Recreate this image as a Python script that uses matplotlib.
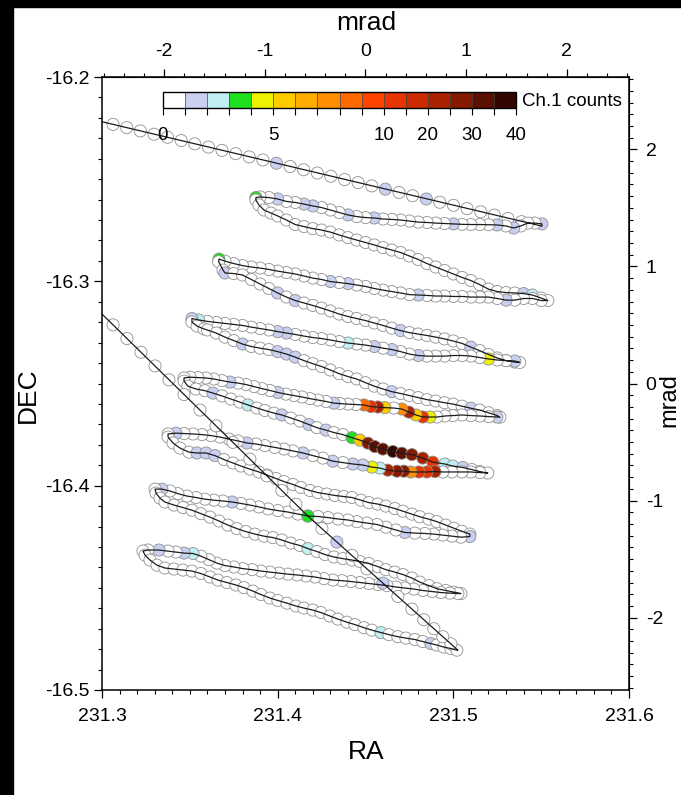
import numpy as np
import matplotlib
matplotlib.use('Agg')
import matplotlib.pyplot as plt
from matplotlib.colors import ListedColormap, BoundaryNorm
from matplotlib.cm import ScalarMappable
from matplotlib.ticker import MultipleLocator, FixedLocator, NullFormatter
from matplotlib import font_manager
from matplotlib.patches import Rectangle

names = {f.name for f in font_manager.fontManager.ttflist}
FONT = 'Liberation Sans Narrow' if 'Liberation Sans Narrow' in names else 'Liberation Sans'
plt.rcParams['font.family'] = [FONT, 'DejaVu Sans']
plt.rcParams['axes.unicode_minus'] = False

# ---------------- data (RA, DEC, Ch.1 counts) ----------------
top_line_ra = [231.3000, 231.5505]
top_line_dec = [-16.2219, -16.2730]
top_obs = [
    (231.3063, -16.2232, 0), (231.3141, -16.2248, 0), (231.3218, -16.2264, 0), (231.3296, -16.2280, 0),
    (231.3373, -16.2295, 0), (231.3451, -16.2311, 0), (231.3528, -16.2327, 0), (231.3606, -16.2343, 0),
    (231.3683, -16.2359, 0), (231.3761, -16.2375, 0), (231.3838, -16.2391, 0), (231.3916, -16.2406, 0),
    (231.3993, -16.2422, 1.5), (231.4071, -16.2438, 0), (231.4148, -16.2454, 0), (231.4226, -16.2470, 0),
    (231.4303, -16.2486, 0), (231.4381, -16.2502, 0), (231.4458, -16.2517, 0), (231.4536, -16.2533, 0),
    (231.4613, -16.2549, 1.5), (231.4691, -16.2565, 0), (231.4768, -16.2581, 0), (231.4846, -16.2597, 1.5),
    (231.4923, -16.2613, 0), (231.5001, -16.2628, 0), (231.5078, -16.2644, 0), (231.5156, -16.2660, 0),
    (231.5233, -16.2676, 0), (231.5311, -16.2692, 0), (231.5388, -16.2708, 0),
]
seg01 = [
    (231.5504, -16.2719, 1.5), (231.5464, -16.2715, 0), (231.5424, -16.2715, 0), (231.5384, -16.2729, 0),
    (231.5344, -16.2739, 1.5), (231.5299, -16.2729, 0), (231.5248, -16.2724, 1.5), (231.520, -16.2723, 0),
    (231.515, -16.2722, 0), (231.510, -16.2722, 0), (231.505, -16.2721, 0), (231.500, -16.2719, 1.5),
    (231.495, -16.2717, 0), (231.490, -16.2715, 0), (231.485, -16.2712, 0), (231.480, -16.2710, 0),
    (231.475, -16.2705, 0), (231.470, -16.2700, 0), (231.465, -16.2697, 0), (231.460, -16.2695, 0),
    (231.455, -16.2690, 1.5), (231.450, -16.2688, 0), (231.445, -16.2683, 0), (231.440, -16.2675, 1.5),
    (231.435, -16.2663, 0), (231.430, -16.2651, 0), (231.425, -16.2639, 0), (231.420, -16.2631, 1.5),
    (231.415, -16.2622, 1.5), (231.410, -16.2614, 0), (231.405, -16.2609, 0), (231.400, -16.2597, 1.5),
    (231.395, -16.2590, 0), (231.390, -16.2587, 0), (231.3876, -16.2590, 3.5),
]
seg02 = [
    (231.3876, -16.2602, 0), (231.3893, -16.2626, 0), (231.3922, -16.2651, 0), (231.3962, -16.2666, 0),
    (231.400, -16.2680, 0), (231.405, -16.2700, 0), (231.410, -16.2722, 0), (231.415, -16.2732, 0),
    (231.420, -16.2742, 0), (231.425, -16.2749, 0), (231.430, -16.2759, 0), (231.435, -16.2773, 0),
    (231.440, -16.2786, 0), (231.445, -16.2798, 0), (231.450, -16.2810, 0), (231.455, -16.2822, 0),
    (231.460, -16.2835, 0), (231.465, -16.2847, 0), (231.470, -16.2859, 0), (231.475, -16.2876, 0),
    (231.480, -16.2893, 0), (231.485, -16.2913, 0), (231.490, -16.2930, 0), (231.495, -16.2947, 0),
    (231.500, -16.2964, 0), (231.505, -16.2981, 0), (231.510, -16.2996, 0), (231.515, -16.3016, 0),
    (231.520, -16.3038, 0), (231.525, -16.3050, 0), (231.530, -16.3055, 0), (231.535, -16.3057, 0),
    (231.540, -16.3060, 1.5), (231.545, -16.3067, 2.5), (231.550, -16.3082, 0), (231.5538, -16.3094, 0),
]
seg03 = [
    (231.550, -16.3094, 0), (231.545, -16.3084, 0), (231.540, -16.3084, 0), (231.535, -16.3092, 0),
    (231.530, -16.3092, 1.5), (231.525, -16.3084, 0), (231.520, -16.3077, 0), (231.515, -16.3077, 0),
    (231.510, -16.3077, 0), (231.505, -16.3074, 0), (231.500, -16.3074, 0), (231.495, -16.3072, 0),
    (231.490, -16.3072, 0), (231.485, -16.3069, 0), (231.480, -16.3067, 1.5), (231.475, -16.3065, 0),
    (231.470, -16.3057, 0), (231.465, -16.3050, 0), (231.460, -16.3043, 0), (231.455, -16.3035, 0),
    (231.450, -16.3025, 0), (231.445, -16.3018, 0), (231.440, -16.3011, 1.5), (231.435, -16.3006, 0),
    (231.430, -16.3001, 1.5), (231.425, -16.2991, 0), (231.420, -16.2984, 0), (231.415, -16.2974, 0),
    (231.410, -16.2964, 0), (231.405, -16.2957, 0), (231.400, -16.2950, 0), (231.395, -16.2942, 0),
    (231.390, -16.2935, 0), (231.385, -16.2930, 0), (231.380, -16.2923, 0), (231.375, -16.2913, 0),
    (231.370, -16.2901, 0), (231.3666, -16.2891, 3.5),
]
seg04 = [
    (231.3664, -16.2904, 0), (231.3689, -16.2945, 0), (231.370, -16.2959, 1.5), (231.375, -16.2962, 0),
    (231.380, -16.2969, 0), (231.385, -16.2991, 0), (231.390, -16.3013, 0), (231.395, -16.3035, 0),
    (231.400, -16.3057, 1.5), (231.405, -16.3077, 0), (231.410, -16.3094, 1.5), (231.415, -16.3106, 0),
    (231.420, -16.3118, 0), (231.425, -16.3131, 0), (231.430, -16.3145, 0), (231.435, -16.3160, 0),
    (231.440, -16.3172, 0), (231.445, -16.3182, 0), (231.450, -16.3192, 0), (231.455, -16.3204, 0),
    (231.460, -16.3216, 0), (231.465, -16.3229, 0), (231.470, -16.3241, 1.5), (231.475, -16.3251, 0),
    (231.480, -16.3258, 0), (231.485, -16.3265, 0), (231.490, -16.3273, 0), (231.495, -16.3282, 0),
    (231.500, -16.3292, 0), (231.505, -16.3304, 0), (231.510, -16.3322, 1.5), (231.515, -16.3339, 0),
    (231.520, -16.3358, 0), (231.525, -16.3375, 0), (231.530, -16.3388, 0), (231.535, -16.3395, 0),
    (231.5378, -16.3397, 0),
]
seg05 = [
    (231.535, -16.3390, 1.5), (231.530, -16.3388, 0), (231.525, -16.3385, 0), (231.520, -16.3380, 4.5),
    (231.515, -16.3373, 0), (231.510, -16.3366, 0), (231.505, -16.3363, 0), (231.500, -16.3363, 0),
    (231.495, -16.3366, 0), (231.490, -16.3366, 0), (231.485, -16.3366, 0), (231.480, -16.3363, 1.5),
    (231.475, -16.3356, 0), (231.470, -16.3344, 0), (231.465, -16.3334, 1.5), (231.460, -16.3327, 0),
    (231.455, -16.3319, 1.5), (231.450, -16.3312, 0), (231.445, -16.3307, 0), (231.440, -16.3302, 2.5),
    (231.435, -16.3295, 0), (231.430, -16.3287, 0), (231.425, -16.3280, 0), (231.420, -16.3275, 0),
    (231.415, -16.3268, 0), (231.410, -16.3260, 0), (231.405, -16.3253, 1.5), (231.400, -16.3246, 1.5),
    (231.395, -16.3238, 0), (231.390, -16.3231, 0), (231.385, -16.3224, 0), (231.380, -16.3216, 0),
    (231.375, -16.3211, 0), (231.370, -16.3206, 0), (231.365, -16.3201, 0), (231.360, -16.3196, 0),
    (231.355, -16.3189, 2.5), (231.3512, -16.3182, 1.5),
]
seg06 = [
    (231.3512, -16.3199, 0), (231.3541, -16.3219, 0), (231.3580, -16.3233, 0), (231.360, -16.3238, 0),
    (231.365, -16.3253, 0), (231.370, -16.3273, 0), (231.375, -16.3290, 0), (231.380, -16.3307, 1.5),
    (231.385, -16.3319, 0), (231.390, -16.3327, 0), (231.395, -16.3334, 0), (231.400, -16.3344, 1.5),
    (231.405, -16.3356, 1.5), (231.410, -16.3371, 1.5), (231.415, -16.3388, 0), (231.420, -16.3403, 0),
    (231.425, -16.3417, 0), (231.430, -16.3434, 0), (231.435, -16.3452, 0), (231.440, -16.3466, 0),
    (231.445, -16.3478, 0), (231.450, -16.3496, 0), (231.455, -16.3513, 0), (231.460, -16.3527, 0),
    (231.465, -16.3540, 1.5), (231.470, -16.3549, 0), (231.475, -16.3559, 0), (231.480, -16.3569, 0),
    (231.485, -16.3579, 0), (231.490, -16.3586, 0), (231.495, -16.3594, 0), (231.500, -16.3601, 0),
    (231.505, -16.3611, 0), (231.510, -16.3621, 1.5), (231.515, -16.3630, 0), (231.520, -16.3643, 0),
    (231.525, -16.3657, 0), (231.5265, -16.3665, 0),
]
seg07 = [
    (231.5248, -16.3664, 1.5), (231.5202, -16.3662, 0), (231.5151, -16.3659, 0), (231.5100, -16.3657, 0),
    (231.5048, -16.3654, 0), (231.4997, -16.3657, 0), (231.4952, -16.3659, 0), (231.4906, -16.3664, 0),
    (231.4866, -16.3664, 4.5), (231.4826, -16.3664, 12), (231.4787, -16.3654, 5.5), (231.4747, -16.3640, 22),
    (231.4707, -16.3625, 7.5), (231.4661, -16.3620, 0), (231.4610, -16.3618, 5.5), (231.4570, -16.3615, 22),
    (231.4531, -16.3613, 12), (231.4491, -16.3605, 8.5), (231.4445, -16.3603, 0), (231.4400, -16.3601, 0),
    (231.4354, -16.3598, 0), (231.4320, -16.3596, 1.5), (231.4275, -16.3588, 0), (231.4229, -16.3581, 0),
    (231.4184, -16.3574, 0), (231.4138, -16.3566, 0), (231.4092, -16.3559, 0), (231.4047, -16.3552, 0),
    (231.4001, -16.3544, 1.5), (231.3956, -16.3534, 0), (231.3910, -16.3525, 0), (231.3865, -16.3515, 0),
    (231.3819, -16.3505, 0), (231.3774, -16.3498, 0), (231.3728, -16.3493, 1.5), (231.3683, -16.3486, 0),
    (231.3637, -16.3478, 0), (231.3592, -16.3473, 0), (231.3546, -16.3471, 0), (231.3501, -16.3469, 0),
    (231.3467, -16.3473, 0),
]
seg08 = [
    (231.3467, -16.3488, 0), (231.3489, -16.3513, 0), (231.3535, -16.3527, 0), (231.3586, -16.3535, 0),
    (231.3632, -16.3547, 1.5), (231.3683, -16.3561, 0), (231.3734, -16.3576, 0), (231.3785, -16.3591, 0),
    (231.3831, -16.3605, 2.5), (231.3882, -16.3620, 0), (231.3927, -16.3632, 0), (231.3979, -16.3645, 0),
    (231.4024, -16.3654, 1.5), (231.4075, -16.3669, 0), (231.4127, -16.3684, 0), (231.4178, -16.3701, 1.5),
    (231.4223, -16.3716, 0), (231.4275, -16.3728, 1.5), (231.4320, -16.3740, 0), (231.4371, -16.3750, 0),
    (231.4423, -16.3765, 3.5), (231.4468, -16.3777, 5.5), (231.4514, -16.3792, 27), (231.4553, -16.3809, 32),
    (231.4599, -16.3821, 30), (231.4656, -16.3833, 38), (231.4707, -16.3841, 33), (231.4764, -16.3848, 27),
    (231.4826, -16.3865, 22), (231.4883, -16.3885, 12), (231.4952, -16.3894, 2.5), (231.4997, -16.3904, 2.5),
    (231.5054, -16.3911, 1.5), (231.5105, -16.3921, 0), (231.5151, -16.3931, 0), (231.5196, -16.3938, 0),
]
seg09 = [
    (231.5151, -16.3936, 0), (231.5100, -16.3933, 0), (231.5048, -16.3933, 0), (231.4992, -16.3933, 0),
    (231.4940, -16.3933, 0), (231.4895, -16.3931, 22), (231.4849, -16.3933, 12), (231.4804, -16.3933, 12),
    (231.4758, -16.3933, 7.5), (231.4718, -16.3929, 27), (231.4679, -16.3929, 27), (231.4627, -16.3924, 22),
    (231.4582, -16.3914, 2.5), (231.4536, -16.3909, 4.5), (231.4485, -16.3899, 1.5), (231.4428, -16.3894, 1.5),
    (231.4371, -16.3887, 0), (231.4314, -16.3880, 1.5), (231.4257, -16.3865, 0), (231.4201, -16.3853, 0),
    (231.4144, -16.3840, 1.5), (231.4087, -16.3830, 0), (231.4036, -16.3821, 0), (231.3984, -16.3813, 0),
    (231.3927, -16.3804, 0), (231.3876, -16.3796, 0), (231.3825, -16.3791, 1.5), (231.3774, -16.3781, 0),
    (231.3723, -16.3772, 0), (231.3671, -16.3762, 0), (231.3620, -16.3755, 0), (231.3569, -16.3750, 0),
    (231.3518, -16.3747, 0), (231.3467, -16.3745, 0), (231.3421, -16.3743, 1.5), (231.3376, -16.3747, 0),
]
seg10 = [
    (231.3376, -16.3762, 0), (231.3404, -16.3791, 0), (231.3444, -16.3816, 0), (231.3495, -16.3836, 0),
    (231.3541, -16.3840, 1.5), (231.3592, -16.3840, 1.5), (231.3643, -16.3853, 1.5), (231.3694, -16.3872, 0),
    (231.3745, -16.3889, 0), (231.3791, -16.3904, 0), (231.3842, -16.3919, 0), (231.3893, -16.3933, 0),
    (231.3939, -16.3948, 0), (231.3990, -16.3965, 0), (231.4036, -16.3980, 0), (231.4087, -16.3994, 0),
    (231.4132, -16.4009, 0), (231.4184, -16.4024, 0), (231.4229, -16.4034, 0), (231.4280, -16.4041, 0),
    (231.4326, -16.4048, 0), (231.4377, -16.4053, 0), (231.4423, -16.4058, 0), (231.4474, -16.4071, 0),
    (231.4519, -16.4083, 0), (231.4570, -16.4090, 0), (231.4616, -16.4100, 0), (231.4667, -16.4112, 0),
    (231.4713, -16.4125, 0), (231.4764, -16.4139, 0), (231.4809, -16.4152, 0), (231.4861, -16.4164, 0),
    (231.4906, -16.4176, 0), (231.4957, -16.4193, 0), (231.5003, -16.4208, 0), (231.5048, -16.4223, 0),
    (231.5094, -16.4237, 0),
]
seg11 = [
    (231.5094, -16.4249, 1.5), (231.5043, -16.4252, 0), (231.4992, -16.4247, 0), (231.4940, -16.4242, 0),
    (231.4889, -16.4237, 0), (231.4838, -16.4234, 0), (231.4781, -16.4232, 0), (231.4724, -16.4229, 1.5),
    (231.4673, -16.4217, 0), (231.4616, -16.4203, 0), (231.4565, -16.4190, 0), (231.4508, -16.4183, 0),
    (231.4451, -16.4176, 0), (231.4400, -16.4168, 0), (231.4343, -16.4163, 0), (231.4286, -16.4156, 0),
    (231.4229, -16.4151, 0), (231.4172, -16.4148, 0), (231.4115, -16.4139, 0), (231.4058, -16.4129, 0),
    (231.4001, -16.4122, 0), (231.3945, -16.4114, 0), (231.3893, -16.4104, 0), (231.3842, -16.4095, 0),
    (231.3791, -16.4087, 0), (231.3740, -16.4080, 1.5), (231.3688, -16.4075, 0), (231.3637, -16.4071, 0),
    (231.3586, -16.4066, 0), (231.3535, -16.4058, 0), (231.3484, -16.4051, 0), (231.3432, -16.4039, 0),
    (231.3387, -16.4026, 0), (231.3341, -16.4017, 1.5), (231.3302, -16.4017, 0),
]
seg12 = [
    (231.3307, -16.4036, 0), (231.3330, -16.4061, 0), (231.3358, -16.4080, 0), (231.3410, -16.4095, 0),
    (231.3461, -16.4107, 0), (231.3512, -16.4120, 0), (231.3563, -16.4137, 0), (231.3615, -16.4154, 0),
    (231.3666, -16.4173, 0), (231.3717, -16.4193, 0), (231.3768, -16.4210, 0), (231.3819, -16.4225, 0),
    (231.3871, -16.4237, 0), (231.3922, -16.4247, 0), (231.3973, -16.4254, 0), (231.4024, -16.4266, 0),
    (231.4075, -16.4281, 0), (231.4127, -16.4293, 0), (231.4172, -16.4308, 2.5), (231.4223, -16.4322, 0),
    (231.4269, -16.4337, 0), (231.4320, -16.4349, 0), (231.4371, -16.4357, 0), (231.4423, -16.4364, 0),
    (231.4468, -16.4371, 0), (231.4519, -16.4381, 0), (231.4570, -16.4396, 0), (231.4616, -16.4411, 0),
    (231.4667, -16.4423, 0), (231.4713, -16.4435, 0), (231.4764, -16.4452, 0), (231.4809, -16.4472, 0),
    (231.4861, -16.4489, 0), (231.4906, -16.4504, 0), (231.4957, -16.4513, 0), (231.5003, -16.4521, 0),
    (231.5043, -16.4528, 0),
]
seg13 = [
    (231.5026, -16.4528, 0), (231.4980, -16.4526, 0), (231.4929, -16.4523, 0), (231.4878, -16.4518, 0),
    (231.4826, -16.4513, 0), (231.4775, -16.4506, 0), (231.4724, -16.4501, 0), (231.4673, -16.4496, 0),
    (231.4622, -16.4489, 0), (231.4570, -16.4484, 0), (231.4519, -16.4479, 0), (231.4468, -16.4474, 0),
    (231.4417, -16.4469, 0), (231.4366, -16.4465, 0), (231.4314, -16.4462, 0), (231.4263, -16.4455, 0),
    (231.4212, -16.4447, 0), (231.4161, -16.4442, 0), (231.4110, -16.4437, 0), (231.4058, -16.4433, 0),
    (231.4007, -16.4428, 0), (231.3956, -16.4423, 0), (231.3905, -16.4418, 0), (231.3854, -16.4411, 0),
    (231.3802, -16.4406, 0), (231.3751, -16.4398, 0), (231.3700, -16.4391, 0), (231.3654, -16.4379, 0),
    (231.3609, -16.4362, 0), (231.3563, -16.4345, 0), (231.3518, -16.4332, 2.5), (231.3467, -16.4330, 1.5),
    (231.3421, -16.4325, 0), (231.3376, -16.4320, 0), (231.3324, -16.4315, 1.5), (231.3262, -16.4315, 0),
    (231.3233, -16.4320, 0),
]
seg14 = [
    (231.3245, -16.4340, 0), (231.3273, -16.4364, 0), (231.3313, -16.4389, 0), (231.3358, -16.4403, 0),
    (231.3410, -16.4408, 0), (231.3461, -16.4413, 0), (231.3512, -16.4418, 0), (231.3563, -16.4430, 0),
    (231.3615, -16.4447, 0), (231.3660, -16.4462, 0), (231.3711, -16.4474, 0), (231.3762, -16.4486, 0),
    (231.3808, -16.4499, 0), (231.3859, -16.4516, 0), (231.3905, -16.4533, 0), (231.3956, -16.4550, 0),
    (231.4001, -16.4562, 0), (231.4053, -16.4575, 0), (231.4104, -16.4589, 0), (231.4149, -16.4599, 0),
    (231.4201, -16.4609, 0), (231.4246, -16.4621, 0), (231.4297, -16.4638, 0), (231.4343, -16.4653, 0),
    (231.4394, -16.4668, 0), (231.4440, -16.4680, 0), (231.4491, -16.4695, 0), (231.4536, -16.4707, 0),
    (231.4588, -16.4719, 2.5), (231.4633, -16.4729, 0), (231.4684, -16.4739, 0), (231.4730, -16.4746, 0),
    (231.4781, -16.4753, 0), (231.4826, -16.4763, 0), (231.4872, -16.4773, 1.5), (231.4906, -16.4780, 0),
    (231.4946, -16.4790, 0), (231.4986, -16.4797, 0), (231.5020, -16.4805, 0),
]
diag_line_ra = [231.5026, 231.4172, 231.3745, 231.3000]
diag_line_dec = [-16.4805, -16.4149, -16.3788, -16.3160]
diag_obs = [
    (231.4986, -16.4774, 0), (231.4940, -16.4739, 0), (231.4889, -16.4700, 0), (231.4832, -16.4656, 0),
    (231.4764, -16.4604, 0), (231.4684, -16.4542, 0), (231.4599, -16.4477, 1.5), (231.4508, -16.4407, 0),
    (231.4423, -16.4341, 0), (231.4337, -16.4276, 1.5), (231.4252, -16.4210, 0), (231.4172, -16.4149, 3.5),
    (231.4104, -16.4091, 0), (231.4024, -16.4024, 0), (231.3939, -16.3952, 0), (231.3842, -16.3870, 0),
    (231.3745, -16.3788, 0), (231.3649, -16.3707, 0), (231.3558, -16.3630, 0), (231.3467, -16.3554, 0),
    (231.3381, -16.3482, 0), (231.3302, -16.3414, 0), (231.3222, -16.3347, 0), (231.3142, -16.3280, 0),
    (231.3063, -16.3213, 0),
]

count_bounds = [0, 1, 2, 3, 4, 5, 6, 7, 8, 9, 10, 15, 20, 25, 30, 35, 40]
count_ticks = [0, 5, 10, 20, 30, 40]
bin_colors = ['#ffffff', '#c9d0f2', '#c2eff2', '#1fe01f', '#eef200', '#ffcc00', '#ffad00', '#ff8e00',
              '#ff6a00', '#ff4400', '#e83400', '#cc2a00', '#aa2200', '#861a00', '#5c1000', '#340600']

RA_C, DEC_C, MRAD_PER_DEG = 231.45, -16.35, 17.4533

# ---------------- figure ----------------
cmap = ListedColormap(bin_colors)
norm = BoundaryNorm(count_bounds, cmap.N)

fig = plt.figure(figsize=(6.81, 7.95), dpi=100)
fig.patch.set_facecolor('white')
ax = fig.add_axes([102 / 681, 1 - 690 / 795, 527 / 681, 613 / 795])

segments = [seg01, seg02, seg03, seg04, seg05, seg06, seg07, seg08, seg09, seg10, seg11, seg12, seg13, seg14]
obs = top_obs + [p for s in segments for p in s] + diag_obs
o_ra = [p[0] for p in obs]
o_dec = [p[1] for p in obs]
o_cnt = [p[2] for p in obs]
ax.scatter(o_ra, o_dec, c=o_cnt, cmap=cmap, norm=norm, s=76, edgecolors='#909090',
           linewidths=0.6, zorder=2)

line_ra = top_line_ra + [p[0] for s in segments for p in s] + diag_line_ra
line_dec = top_line_dec + [p[1] for s in segments for p in s] + diag_line_dec
ax.plot(line_ra, line_dec, color='#1c1c1c', lw=0.9, zorder=3, solid_joinstyle='round')

ax.set_xlim(231.3, 231.6)
ax.set_ylim(-16.5, -16.2)
ax.set_xticks([231.3, 231.4, 231.5, 231.6], labels=['231.3', '231.4', '231.5', '231.6'])
ax.set_yticks([-16.5, -16.4, -16.3, -16.2], labels=['-16.5', '-16.4', '-16.3', '-16.2'])
ax.xaxis.set_minor_locator(MultipleLocator(0.01))
ax.yaxis.set_minor_locator(MultipleLocator(0.01))
ax.tick_params(which='major', direction='out', length=6, width=0.9, labelsize=14)
ax.tick_params(which='minor', direction='out', length=3, width=0.8)
ax.tick_params(axis='x', which='major', pad=7)
ax.tick_params(axis='y', which='major', pad=3)
for sp in ax.spines.values():
    sp.set_linewidth(1.1)


def ra2m(x):
    return (np.asarray(x) - RA_C) * MRAD_PER_DEG


def m2ra(m):
    return np.asarray(m) / MRAD_PER_DEG + RA_C


def dec2m(y):
    return (np.asarray(y) - DEC_C) * MRAD_PER_DEG


def m2dec(m):
    return np.asarray(m) / MRAD_PER_DEG + DEC_C


sx = ax.secondary_xaxis('top', functions=(ra2m, m2ra))
sx.set_xticks([-2, -1, 0, 1, 2], labels=['-2', '-1', '0', '1', '2'])
sx.xaxis.set_minor_locator(MultipleLocator(0.2))
sx.tick_params(which='major', direction='out', length=6, width=0.9, labelsize=14, pad=6)
sx.tick_params(which='minor', direction='out', length=3, width=0.8)
sy = ax.secondary_yaxis('right', functions=(dec2m, m2dec))
sy.set_yticks([-2, -1, 0, 1, 2], labels=['-2', '-1', '0', '1', '2'])
sy.yaxis.set_minor_locator(MultipleLocator(0.1))
sy.tick_params(which='major', direction='out', length=6, width=0.9, labelsize=14, pad=6)
sy.tick_params(which='minor', direction='out', length=3, width=0.8)

fig.text(366 / 681, 1 - 23 / 795, 'mrad', ha='center', va='center', fontsize=19)
fig.text(366 / 681, 1 - 752 / 795, 'RA', ha='center', va='center', fontsize=19)
fig.text(28 / 681, 1 - 395 / 795, 'DEC', ha='center', va='center', rotation=90, fontsize=19)
fig.text(669 / 681, 1 - 400 / 795, 'mrad', ha='center', va='center', rotation=90, fontsize=17)

# colour bar
cax = fig.add_axes([163 / 681, 1 - 108 / 795, 353 / 681, 16 / 795])
cb = fig.colorbar(ScalarMappable(norm=norm, cmap=cmap), cax=cax, orientation='horizontal',
                  spacing='uniform', ticks=count_ticks, drawedges=True)
cb.outline.set_linewidth(1.0)
cb.outline.set_edgecolor('black')
cb.dividers.set_color('#444444')
cb.dividers.set_linewidth(0.5)
cax.xaxis.set_minor_locator(FixedLocator(count_bounds))
cax.xaxis.set_minor_formatter(NullFormatter())
cax.set_xticklabels([str(t) for t in count_ticks])
cax.tick_params(which='both', direction='out', length=5, width=0.8, labelsize=13.5, pad=9)
fig.text(522 / 681, 1 - 101 / 795, 'Ch.1 counts', ha='left', va='center', fontsize=13.5)

# black margins of the original screenshot
fig.patches.append(Rectangle((0, 0), 13 / 681, 1, transform=fig.transFigure, color='black', zorder=10))
fig.patches.append(Rectangle((0, 1 - 7 / 795), 1, 7 / 795, transform=fig.transFigure, color='black', zorder=10))

fig.savefig('out.png', dpi=100, facecolor='white')
